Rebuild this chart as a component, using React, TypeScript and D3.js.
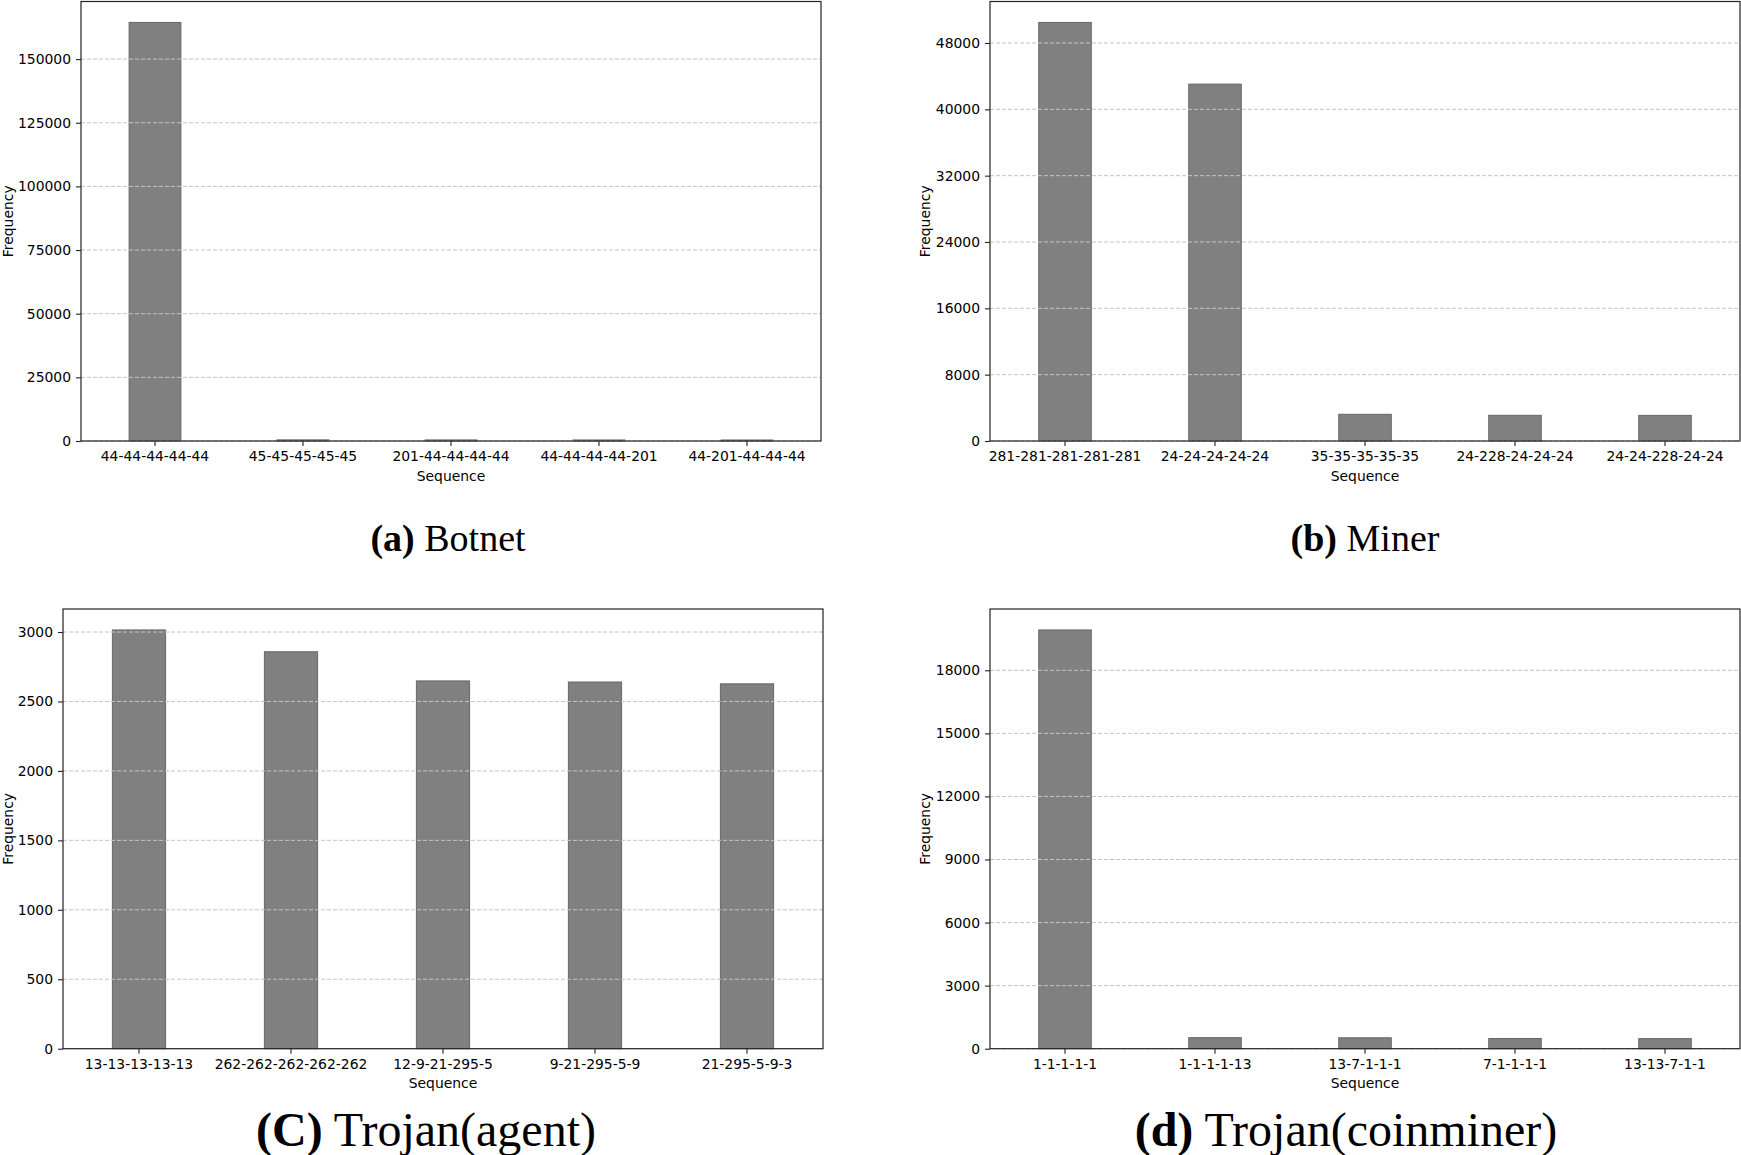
import React, { useEffect, useRef } from "react";
import * as d3 from "d3";

// values
const botnetSeq = ["44-44-44-44-44", "45-45-45-45-45", "201-44-44-44-44", "44-44-44-44-201", "44-201-44-44-44"];
const botnetFreq = [164400, 450, 420, 410, 400];
const botnetTicks = [0, 25000, 50000, 75000, 100000, 125000, 150000];

const minerSeq = ["281-281-281-281-281", "24-24-24-24-24", "35-35-35-35-35", "24-228-24-24-24", "24-24-228-24-24"];
const minerFreq = [50480, 43040, 3220, 3100, 3090];
const minerTicks = [0, 8000, 16000, 24000, 32000, 40000, 48000];

const agentSeq = ["13-13-13-13-13", "262-262-262-262-262", "12-9-21-295-5", "9-21-295-5-9", "21-295-5-9-3"];
const agentFreq = [3015, 2858, 2648, 2640, 2627];
const agentTicks = [0, 500, 1000, 1500, 2000, 2500, 3000];

const coinSeq = ["1-1-1-1-1", "1-1-1-1-13", "13-7-1-1-1", "7-1-1-1-1", "13-13-7-1-1"];
const coinFreq = [19920, 525, 520, 485, 480];
const coinTicks = [0, 3000, 6000, 9000, 12000, 15000, 18000];

const W = 1741;
const H = 1155;
const FONT = "DejaVu Sans, sans-serif";
const FS = 13.9;

interface PanelProps {
  seq: string[];
  freq: number[];
  ticks: number[];
  box: { left: number; right: number; top: number; bottom: number };
  labelX: number;
  tag: string;
  name: string;
  capX: number;
  capY: number;
  capSize: number;
}

const panels: PanelProps[] = [
  { seq: botnetSeq, freq: botnetFreq, ticks: botnetTicks, box: { left: 81, right: 821, top: 1.5, bottom: 441 }, labelX: 8, tag: "(a)", name: " Botnet", capX: 448, capY: 551, capSize: 38 },
  { seq: minerSeq, freq: minerFreq, ticks: minerTicks, box: { left: 990, right: 1740, top: 1.5, bottom: 441 }, labelX: 925, tag: "(b)", name: " Miner", capX: 1365, capY: 551, capSize: 38 },
  { seq: agentSeq, freq: agentFreq, ticks: agentTicks, box: { left: 63, right: 823, top: 609, bottom: 1048.7 }, labelX: 8, tag: "(C)", name: " Trojan(agent)", capX: 426, capY: 1146, capSize: 48 },
  { seq: coinSeq, freq: coinFreq, ticks: coinTicks, box: { left: 990, right: 1740, top: 609, bottom: 1048.7 }, labelX: 925, tag: "(d)", name: " Trojan(coinminer)", capX: 1346, capY: 1146, capSize: 48 },
];

const App: React.FC = () => {
  const svgRef = useRef<SVGSVGElement | null>(null);

  useEffect(() => {
    const svg = d3.select(svgRef.current);
    svg.selectAll("*").remove();
    svg.append("rect").attr("width", W).attr("height", H).attr("fill", "white");

    panels.forEach(p => {
      const { left, right, top, bottom } = p.box;
      const g = svg.append("g");

      const x = d3
        .scaleBand()
        .domain(p.seq)
        .range([left, right])
        .paddingInner(0.65)
        .paddingOuter(0.325);

      const y = d3
        .scaleLinear()
        .domain([0, (d3.max(p.freq) || 0) * 1.05])
        .range([bottom, top]);

      // Bars
      g.append("g")
        .selectAll("rect")
        .data(p.seq)
        .join("rect")
        .attr("x", d => x(d)!)
        .attr("y", (d, i) => y(p.freq[i]))
        .attr("width", x.bandwidth())
        .attr("height", (d, i) => bottom - y(p.freq[i]))
        .attr("fill", "#808080")
        .attr("stroke", "#676767")
        .attr("stroke-width", 1);

      // Gridlines
      g.append("g")
        .selectAll("line")
        .data(p.ticks)
        .join("line")
        .attr("x1", left)
        .attr("x2", right)
        .attr("y1", d => y(d))
        .attr("y2", d => y(d))
        .attr("stroke", "#c4c4c4")
        .attr("stroke-width", 1)
        .attr("stroke-dasharray", "4,2");

      // Frame
      g.append("rect")
        .attr("x", left)
        .attr("y", top)
        .attr("width", right - left)
        .attr("height", bottom - top)
        .attr("fill", "none")
        .attr("stroke", "#222")
        .attr("stroke-width", 1.2);

      // Y axis
      g.append("g")
        .attr("transform", `translate(${left},0)`)
        .call(d3.axisLeft(y).tickValues(p.ticks).tickSize(5).tickPadding(5).tickFormat(d => String(d)))
        .call(a => a.select(".domain").remove())
        .call(a => a.selectAll("line").attr("stroke", "#222").attr("stroke-width", 1.1))
        .call(a => a.selectAll("text").attr("fill", "#000"))
        .attr("font-family", FONT)
        .attr("font-size", FS);

      // X axis
      g.append("g")
        .attr("transform", `translate(0,${bottom})`)
        .call(d3.axisBottom(x).tickSize(5).tickPadding(5))
        .call(a => a.select(".domain").remove())
        .call(a => a.selectAll("line").attr("stroke", "#222").attr("stroke-width", 1.1))
        .call(a => a.selectAll("text").attr("fill", "#000"))
        .attr("font-family", FONT)
        .attr("font-size", FS);

      // Axis labels
      g.append("text")
        .attr("x", (left + right) / 2)
        .attr("y", bottom + 29)
        .attr("dy", "0.76em")
        .attr("text-anchor", "middle")
        .attr("font-family", FONT)
        .attr("font-size", FS)
        .text("Sequence");

      g.append("text")
        .attr("transform", `translate(${p.labelX},${(top + bottom) / 2}) rotate(-90)`)
        .attr("dy", "0.35em")
        .attr("text-anchor", "middle")
        .attr("font-family", FONT)
        .attr("font-size", FS)
        .text("Frequency");

      // Caption
      const cap = g.append("text")
        .attr("x", p.capX)
        .attr("y", p.capY)
        .attr("text-anchor", "middle")
        .attr("font-family", "Liberation Serif, Times New Roman, serif")
        .attr("font-size", p.capSize);
      cap.append("tspan").attr("font-weight", "bold").text(p.tag);
      cap.append("tspan").text(p.name);
    });
  }, []);

  return (
    <div style={{ position: "absolute", left: 0, top: 0 }}>
      <svg ref={svgRef} width={W} height={H} style={{ display: "block" }}></svg>
    </div>
  );
};

export default App;
